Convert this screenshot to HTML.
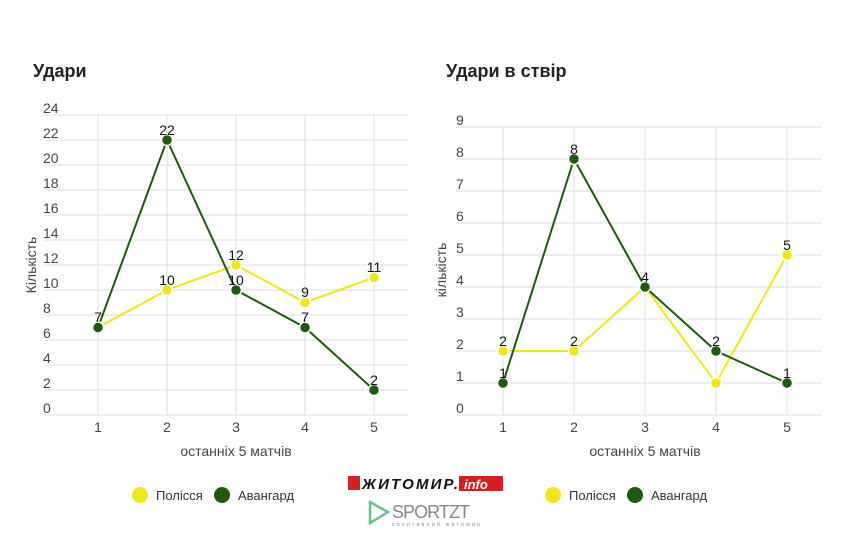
<!DOCTYPE html>
<html><head><meta charset="utf-8"><style>
body{margin:0;background:#fff;font-family:"Liberation Sans",sans-serif}
</style></head><body>
<svg width="850" height="548" xmlns="http://www.w3.org/2000/svg" font-family="Liberation Sans, sans-serif">
<rect width="850" height="548" fill="#fff"/>
<text x="33" y="77" font-size="18" font-weight="bold" fill="#222">Удари</text>
<text x="446" y="77" font-size="18" font-weight="bold" fill="#222">Удари в ствір</text>
<g stroke="#ddd" stroke-width="1">
<line x1="44" x2="408" y1="115" y2="115"/><line x1="44" x2="408" y1="140" y2="140"/><line x1="44" x2="408" y1="165" y2="165"/><line x1="44" x2="408" y1="190" y2="190"/><line x1="44" x2="408" y1="215" y2="215"/><line x1="44" x2="408" y1="240" y2="240"/><line x1="44" x2="408" y1="265" y2="265"/><line x1="44" x2="408" y1="290" y2="290"/><line x1="44" x2="408" y1="315" y2="315"/><line x1="44" x2="408" y1="340" y2="340"/><line x1="44" x2="408" y1="365" y2="365"/><line x1="44" x2="408" y1="390" y2="390"/><line x1="44" x2="408" y1="415" y2="415"/>
<line x1="98" x2="98" y1="115" y2="415"/><line x1="167" x2="167" y1="115" y2="415"/><line x1="236" x2="236" y1="115" y2="415"/><line x1="305" x2="305" y1="115" y2="415"/><line x1="374" x2="374" y1="115" y2="415"/>
</g>
<g font-size="14" fill="#444">
<text x="43" y="113">24</text><text x="43" y="138">22</text><text x="43" y="163">20</text><text x="43" y="188">18</text><text x="43" y="213">16</text><text x="43" y="238">14</text><text x="43" y="263">12</text><text x="43" y="288">10</text><text x="43" y="313">8</text><text x="43" y="338">6</text><text x="43" y="363">4</text><text x="43" y="388">2</text><text x="43" y="413">0</text>
</g>
<g font-size="14" fill="#444" text-anchor="middle">
<text x="98" y="432">1</text><text x="167" y="432">2</text><text x="236" y="432">3</text><text x="305" y="432">4</text><text x="374" y="432">5</text>
<text x="236" y="456">останніх 5 матчів</text>
<text transform="translate(36,265) rotate(-90)">Кількість</text>
</g>
<polyline fill="none" stroke="#f0e620" stroke-width="2" points="98,327.5 167,290 236,265 305,302.5 374,277.5"/>
<polyline fill="none" stroke="#1e5a0f" stroke-width="2" points="98,327.5 167,140 236,290 305,327.5 374,390"/>
<g fill="#f0e620" stroke="#fff" stroke-width="1.5"><circle cx="167" cy="290" r="5.5"/><circle cx="236" cy="265" r="5.5"/><circle cx="305" cy="302.5" r="5.5"/><circle cx="374" cy="277.5" r="5.5"/></g>
<g fill="#1e5a0f" stroke="#fff" stroke-width="1.5"><circle cx="98" cy="327.5" r="5.5"/><circle cx="167" cy="140" r="5.5"/><circle cx="236" cy="290" r="5.5"/><circle cx="305" cy="327.5" r="5.5"/><circle cx="374" cy="390" r="5.5"/></g>
<g font-size="14" fill="#111" text-anchor="middle">
<text x="98" y="322">7</text><text x="167" y="135">22</text><text x="167" y="285">10</text><text x="236" y="260">12</text><text x="236" y="285">10</text><text x="305" y="297">9</text><text x="305" y="322">7</text><text x="374" y="272">11</text><text x="374" y="385">2</text>
</g>
<g stroke="#ddd" stroke-width="1">
<line x1="455" x2="822" y1="127" y2="127"/><line x1="455" x2="822" y1="159" y2="159"/><line x1="455" x2="822" y1="191" y2="191"/><line x1="455" x2="822" y1="223" y2="223"/><line x1="455" x2="822" y1="255" y2="255"/><line x1="455" x2="822" y1="287" y2="287"/><line x1="455" x2="822" y1="319" y2="319"/><line x1="455" x2="822" y1="351" y2="351"/><line x1="455" x2="822" y1="383" y2="383"/><line x1="455" x2="822" y1="415" y2="415"/>
<line x1="503" x2="503" y1="127" y2="415"/><line x1="574" x2="574" y1="127" y2="415"/><line x1="645" x2="645" y1="127" y2="415"/><line x1="716" x2="716" y1="127" y2="415"/><line x1="787" x2="787" y1="127" y2="415"/>
</g>
<g font-size="14" fill="#444">
<text x="456" y="125">9</text><text x="456" y="157">8</text><text x="456" y="189">7</text><text x="456" y="221">6</text><text x="456" y="253">5</text><text x="456" y="285">4</text><text x="456" y="317">3</text><text x="456" y="349">2</text><text x="456" y="381">1</text><text x="456" y="413">0</text>
</g>
<g font-size="14" fill="#444" text-anchor="middle">
<text x="503" y="432">1</text><text x="574" y="432">2</text><text x="645" y="432">3</text><text x="716" y="432">4</text><text x="787" y="432">5</text>
<text x="645" y="456">останніх 5 матчів</text>
<text transform="translate(446,270) rotate(-90)">кількість</text>
</g>
<polyline fill="none" stroke="#f0e620" stroke-width="2" points="503,351 574,351 645,287 716,383 787,255"/>
<polyline fill="none" stroke="#1e5a0f" stroke-width="2" points="503,383 574,159 645,287 716,351 787,383"/>
<g fill="#f0e620" stroke="#fff" stroke-width="1.5"><circle cx="503" cy="351" r="5.5"/><circle cx="574" cy="351" r="5.5"/><circle cx="716" cy="383" r="5.5"/><circle cx="787" cy="255" r="5.5"/></g>
<g fill="#1e5a0f" stroke="#fff" stroke-width="1.5"><circle cx="503" cy="383" r="5.5"/><circle cx="574" cy="159" r="5.5"/><circle cx="645" cy="287" r="5.5"/><circle cx="716" cy="351" r="5.5"/><circle cx="787" cy="383" r="5.5"/></g>
<g font-size="14" fill="#111" text-anchor="middle">
<text x="503" y="346">2</text><text x="503" y="378">1</text><text x="574" y="346">2</text><text x="574" y="154">8</text><text x="645" y="282">4</text><text x="716" y="346">2</text><text x="787" y="250">5</text><text x="787" y="378">1</text>
</g>
<circle cx="140" cy="495" r="8" fill="#f0e620"/><text x="156" y="500" font-size="13" fill="#333">Полісся</text>
<circle cx="222" cy="495" r="8" fill="#1e5a0f"/><text x="238" y="500" font-size="13" fill="#333">Авангард</text>
<circle cx="553" cy="495" r="8" fill="#f0e620"/><text x="569" y="500" font-size="13" fill="#333">Полісся</text>
<circle cx="635" cy="495" r="8" fill="#1e5a0f"/><text x="651" y="500" font-size="13" fill="#333">Авангард</text>
<rect x="348" y="476" width="12" height="14" fill="#d42020"/>
<text x="362" y="489" font-size="15" font-weight="bold" font-style="italic" fill="#111" textLength="96">ЖИТОМИР.</text>
<rect x="459" y="476" width="44" height="15" fill="#d42020"/>
<text x="464" y="489" font-size="13" font-weight="bold" font-style="italic" fill="#fff">info</text>
<polygon points="370,502 388,512 370,523" fill="none" stroke="#6cc08a" stroke-width="2.5"/>
<text x="392" y="518" font-size="18" fill="#888" textLength="78">SPORTZT</text>
<text x="392" y="526" font-size="5" fill="#888" textLength="88">спортивний житомир</text>
</svg>
</body></html>
